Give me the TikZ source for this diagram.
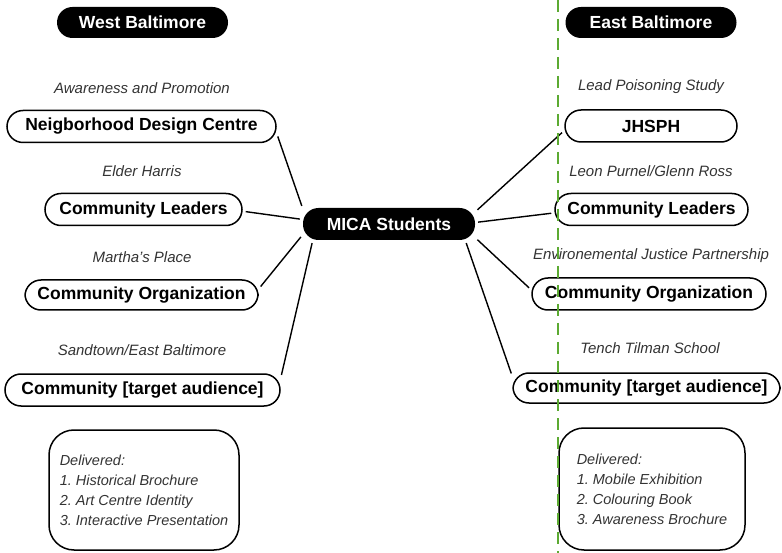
\documentclass[tikz,border=0pt]{standalone}
\usepackage{fontspec}
\setmainfont{Liberation Sans}
\definecolor{divgreen}{RGB}{92,170,50}
\frenchspacing
\begin{document}
\begin{tikzpicture}[x=1pt,y=-1pt,
 pill/.style={rectangle, rounded corners=15.5pt, fill=black, text=white, font=\bfseries\fontsize{17.5}{19}\selectfont, minimum width=171pt, minimum height=31pt, inner sep=0pt},
 oval/.style={rectangle, rounded corners=16pt, draw=black, line width=1.5pt, font=\bfseries\fontsize{17.5}{19}\selectfont, minimum height=32pt, inner sep=0pt},
 lbl/.style={font=\itshape\fontsize{15}{17}\selectfont, text=black!80, inner sep=0pt},
 conn/.style={line width=1.4pt, shorten <=3pt, shorten >=3pt},
 delbox/.style={rectangle, rounded corners=25pt, draw=black, line width=1.5pt, font=\itshape\fontsize{14.5}{20}\selectfont, text=black!80, align=left, minimum height=120pt},
 divider/.style={draw=divgreen, line width=2pt, dash pattern=on 12pt off 7pt}
]
\useasboundingbox (0,0) rectangle (782,553);

\node[pill] (west) at (142.5,22.5) {West Baltimore};
\node[pill] (east) at (651,22.5) {East Baltimore};
\node[pill, minimum width=172pt, minimum height=32pt] (mica) at (389,224) {MICA Students};

% West
\node[lbl] (l1) at (142,88) {Awareness and Promotion};
\node[oval, minimum width=269pt] (ndc) at (141.5,126.5) {Neigborhood Design Centre};
\node[lbl] (l2) at (142,171) {Elder Harris};
\node[oval, minimum width=197pt] (cll) at (143.5,209.5) {Community Leaders};
\node[lbl] (l3) at (142,257) {Martha's Place};
\node[oval, minimum width=233pt, minimum height=30pt] (col) at (141.5,295) {Community Organization};
\node[lbl] (l4) at (142,350) {Sandtown/East Baltimore};
\node[oval, minimum width=275pt] (ctl) at (142.5,390) {Community [target audience]};
\node[delbox, minimum width=190pt] (dl) at (144,490) {Delivered:\\1. Historical Brochure\\2. Art Centre Identity\\3. Interactive Presentation};

% East
\node[lbl] (r1) at (651,87) {Lead Poisoning Study};
\node[oval, minimum width=172pt] (jh) at (651,126) {JHSPH};
\node[lbl] (r2) at (651,171) {Leon Purnel/Glenn Ross};
\node[oval, minimum width=193pt] (clr) at (651.5,209.5) {Community Leaders};
\node[lbl] (r3) at (651,256) {Environemental Justice Partnership};
\node[oval, minimum width=234pt] (cor) at (649,294) {Community Organization};
\node[lbl] (r4) at (650,348) {Tench Tilman School};
\node[oval, minimum width=267pt, minimum height=30pt] (ctr) at (646.5,388) {Community [target audience]};
\node[delbox, minimum width=186pt, minimum height=122pt] (dr) at (652,489) {Delivered:\\1. Mobile Exhibition\\2. Colouring Book\\3. Awareness Brochure};

% connectors
\draw[conn] (mica.170) -- (ndc.-3);
\draw[conn] (mica.177) -- (cll.-1);
\draw[conn] (mica.187) -- (col.3);
\draw[conn] (mica.192) -- (ctl.5);
\draw[conn] (mica.8) -- (jh.183);
\draw[conn] (mica.1) -- (clr.182);
\draw[conn] (mica.-9) -- (cor.178);
\draw[conn] (mica.-12) -- (ctr.175);

% divider
\coordinate (dtop) at (558,0);
\coordinate (dbot) at (558,553);
\draw[divider] (dtop) -- (dbot);
\end{tikzpicture}
\end{document}
